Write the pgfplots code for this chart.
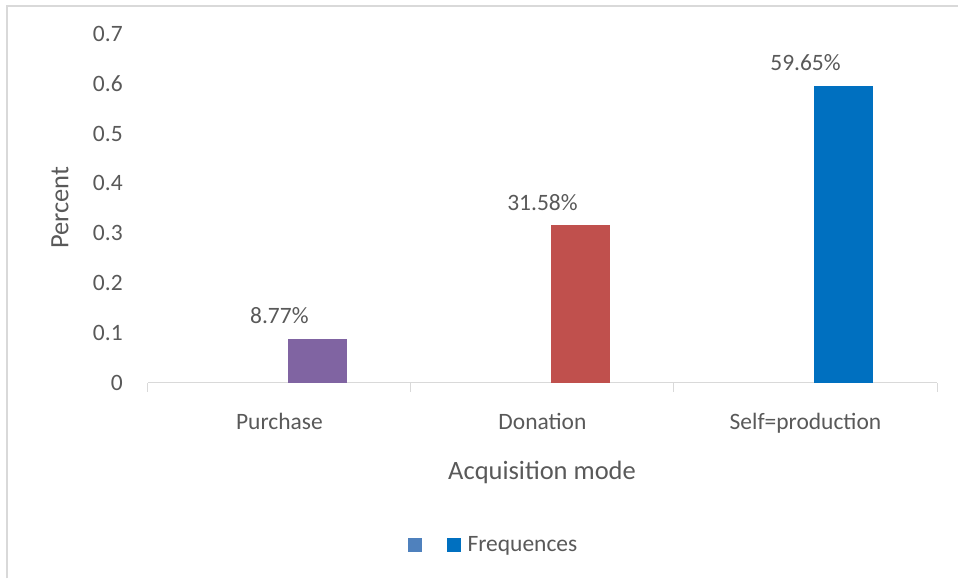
\documentclass[border=0pt]{standalone}
\usepackage{fontspec}
\setmainfont{Carlito}
\usepackage{pgfplots}
\pgfplotsset{compat=1.18}
\definecolor{txt}{HTML}{595959}
\definecolor{axgray}{HTML}{D9D9D9}
\definecolor{cpurple}{HTML}{8064A2}
\definecolor{cred}{HTML}{C0504D}
\definecolor{cblue}{HTML}{0070C0}
\definecolor{legblue}{HTML}{4F81BD}
\newcommand{\lbl}{\fontsize{23.5}{28}\selectfont}
\newcommand{\ttl}{\fontsize{26.5}{31}\selectfont}
\begin{document}
\begin{tikzpicture}[x=1pt,y=1pt]
\path (0,0) rectangle (959,579);
\draw[axgray, line width=2pt] (7,0) -- (7,573) -- (959,573);
\begin{axis}[
  at={(148pt,196pt)}, anchor=south west,
  scale only axis, width=790pt, height=349pt,
  xmin=-0.5, xmax=2.5, ymin=0, ymax=0.7,
  axis x line*=bottom, axis y line*=left,
  x axis line style={draw=axgray, line width=1pt},
  y axis line style={draw=none},
  xtick={0,1,2},
  xticklabels={Purchase,Donation,Self=production},
  xtick style={draw=none},
  xticklabel style={font=\lbl, text=txt, anchor=base, inner sep=0pt, yshift=-47pt},
  extra x ticks={-0.5,0.5,1.5,2.5},
  extra x tick labels={},
  extra x tick style={xtick style={draw=axgray, line width=1pt}, major tick length=9pt, tick align=outside},
  ytick={0,0.1,0.2,0.3,0.4,0.5,0.6,0.7},
  yticklabels={0,0.1,0.2,0.3,0.4,0.5,0.6,0.7},
  ytick style={draw=none},
  yticklabel style={font=\lbl, text=txt, anchor=east, inner sep=0pt, xshift=-25pt},
  ylabel={Percent},
  ylabel style={font=\ttl, text=txt, at={(axis description cs:-0.1114,0.5014)}, anchor=center, rotate=0},
  xlabel={Acquisition mode},
  xlabel style={font=\ttl, text=txt, at={(axis description cs:0.4995,-0.2579)}, anchor=center},
  nodes near coords style={font=\lbl, text=txt, anchor=center, yshift=23pt},
  legend style={at={(axis description cs:0.3291,-0.4642)}, anchor=west, draw=none, fill=none, inner sep=0pt,
    font=\lbl, text=txt, legend columns=2,
    /tikz/every odd column/.append style={column sep=5pt},
    /tikz/every even column/.append style={column sep=17pt}},
  clip=false,
]
\addplot[ybar, bar width=0.224, bar shift=0.144, fill=cpurple, draw=none, forget plot,
  nodes near coords={8.77\%}] coordinates {(0,0.0877)};
\addplot[ybar, bar width=0.224, bar shift=0.144, fill=cred, draw=none, forget plot,
  nodes near coords={31.58\%}] coordinates {(1,0.3158)};
\addplot[ybar, bar width=0.224, bar shift=0.144, fill=cblue, draw=none, forget plot,
  nodes near coords={59.65\%}] coordinates {(2,0.5965)};
\addlegendimage{legend image code/.code={\fill[legblue] (0pt,-6.5pt) rectangle (13pt,6.5pt);}}
\addlegendentry{}
\addlegendimage{legend image code/.code={\fill[cblue] (0pt,-6.5pt) rectangle (13pt,6.5pt);}}
\addlegendentry{Frequences}
\end{axis}
\end{tikzpicture}
\end{document}
